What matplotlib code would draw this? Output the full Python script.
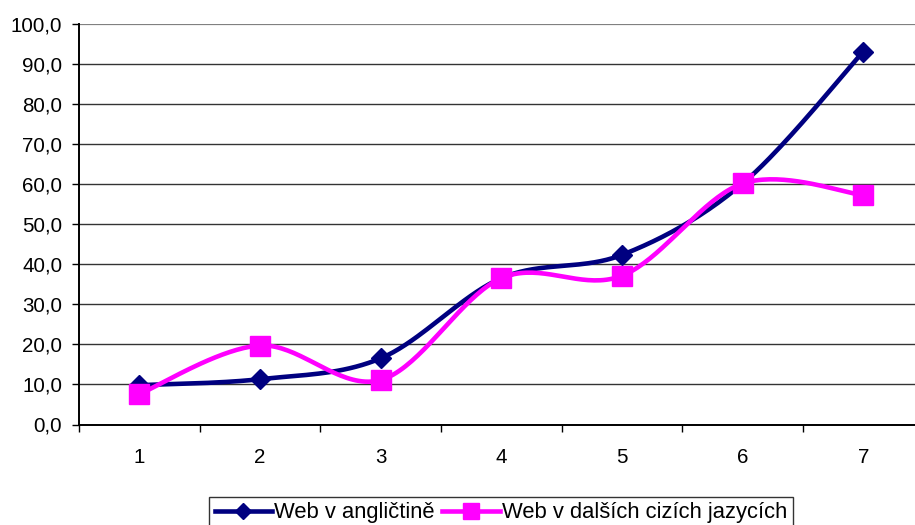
import numpy as np
import matplotlib
matplotlib.use("Agg")
import matplotlib.pyplot as plt
from matplotlib.lines import Line2D

categories = [1, 2, 3, 4, 5, 6, 7]
web_en = [9.8, 11.3, 16.5, 36.5, 42.3, 60.1, 93.0]
web_other = [7.6, 19.7, 11.1, 36.5, 37.1, 60.1, 57.2]
series_names = ["Web v angličtině", "Web v dalších cizích jazycích"]
yticks = [0, 10, 20, 30, 40, 50, 60, 70, 80, 90, 100]

plt.rcParams['font.family'] = ['Liberation Sans', 'DejaVu Sans']

def smooth(xs, ys, n=40):
    P = np.column_stack([xs, ys]).astype(float)
    Pp = np.vstack([P[0], P, P[-1]])
    out = []
    t = np.linspace(0, 1, n)[:, None]
    for i in range(len(P) - 1):
        p0, p1, p2, p3 = Pp[i], Pp[i + 1], Pp[i + 2], Pp[i + 3]
        c1 = p1 + (p2 - p0) / 6
        c2 = p2 - (p3 - p1) / 6
        seg = ((1 - t) ** 3) * p1 + 3 * ((1 - t) ** 2) * t * c1 + 3 * (1 - t) * t ** 2 * c2 + t ** 3 * p2
        out.append(seg if i == 0 else seg[1:])
    s = np.vstack(out)
    return s[:, 0], s[:, 1]

W, H = 915, 525
fig = plt.figure(figsize=(W / 100, H / 100), dpi=100)
left = 79 / W
bottom = 1 - 424.5 / H
top = 1 - 23.5 / H
ax = fig.add_axes([left, bottom, 1 - left, top - bottom])

for v in yticks:
    ax.axhline(v, color='#333333' if v < 100 else '#808080', lw=1.0 if v < 100 else 1.6, zorder=1)

navy = '#000080'
mag = '#FF00FF'
x1, y1 = smooth(categories, web_en)
x2, y2 = smooth(categories, web_other)
ax.plot(x1, y1, color=navy, lw=3.3, zorder=3, solid_capstyle='round')
ax.plot(categories, web_en, ls='none', marker='D', ms=10, color=navy, zorder=4)
ax.plot(x2, y2, color=mag, lw=3.3, zorder=5, solid_capstyle='round')
ax.plot(categories, web_other, ls='none', marker='s', ms=14, color=mag, zorder=6)

fs = 14.8
ax.set_yticks(yticks)
ax.set_yticklabels([f"{v:.1f}".replace('.', ',') for v in yticks])
ax.set_xticks(categories)
ax.set_xticklabels([str(c) for c in categories])
ax.set_xticks(np.arange(0.5, 8, 1), minor=True)
ax.tick_params(axis='x', which='major', length=0, pad=17, labelsize=fs)
ax.tick_params(axis='x', which='minor', length=5, width=1, color='black', direction='out')
ax.tick_params(axis='y', which='major', length=5, width=1, color='black', direction='out', pad=7, labelsize=fs)

ax.set_ylim(0, 100)
ax.set_xlim(0.5, 0.5 + (W - 79) / 120.67)

for s in ['top', 'right']:
    ax.spines[s].set_visible(False)
for s in ['left', 'bottom']:
    ax.spines[s].set_color('black')
    ax.spines[s].set_linewidth(1.4)
    ax.spines[s].set_zorder(7)

lfs = 15.8
handles = [
    Line2D([], [], color=navy, lw=3.3, marker='D', ms=8.5),
    Line2D([], [], color=mag, lw=3.3, marker='s', ms=11),
]
leg = fig.legend(handles, series_names, loc='upper center',
                 bbox_to_anchor=(501 / W, 1 - 497 / H), ncol=2, frameon=True,
                 fancybox=False, edgecolor='black', fontsize=lfs,
                 handlelength=2.6, handletextpad=0.12, columnspacing=0.35,
                 borderpad=0.25, borderaxespad=0)
leg.get_frame().set_linewidth(1.0)

fig.savefig('out.png', dpi=100)
